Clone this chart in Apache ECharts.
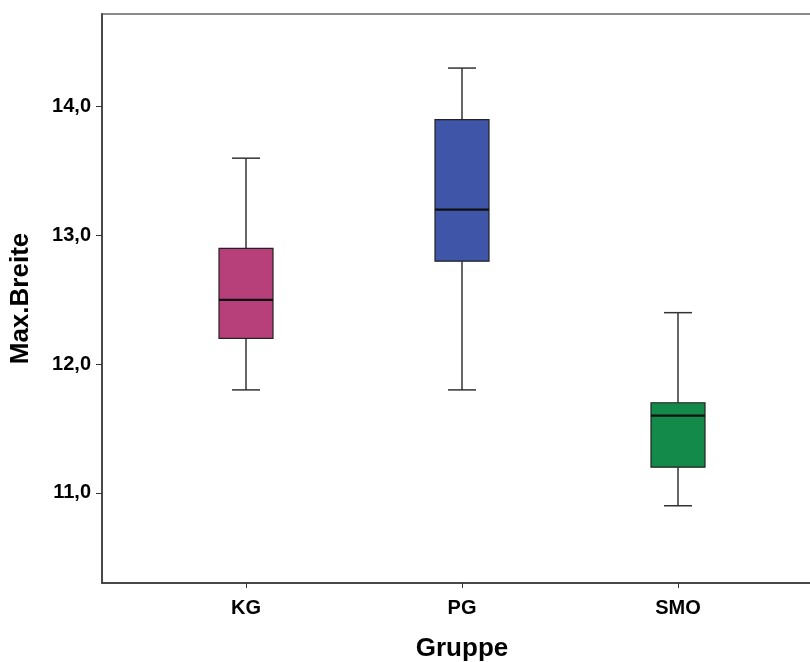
<!DOCTYPE html>
<html>
<head>
<meta charset="utf-8">
<script src="https://cdn.jsdelivr.net/npm/echarts@6/dist/echarts.min.js"></script>
<style>
  html, body { margin: 0; padding: 0; overflow: hidden; background: #fff; }
  #main { width: 840px; height: 662px; }
</style>
</head>
<body>
<div id="main"></div>
<script>
// Gruppe / Max.Breite
const groups = ['KG', 'PG', 'SMO']
const mins = [11.8, 11.8, 10.9]
const q1s = [12.2, 12.8, 11.2]
const medians = [12.5, 13.2, 11.6]
const q3s = [12.9, 13.9, 11.7]
const maxs = [13.6, 14.3, 12.4]
const colors = ['#b8407a', '#3e55a8', '#138a4a']
const yTicks = [11, 12, 13, 14]

const boxData = groups.map((g, i) => [i, mins[i], q1s[i], medians[i], q3s[i], maxs[i]])

const chart = echarts.init(document.getElementById('main'))

chart.setOption({
  animation: false,
  grid: {
    left: 102,
    top: 14,
    width: 720,
    bottom: 79,
    outerBoundsMode: 'none',
    show: true,
    borderColor: '#8a8a8a',
    borderWidth: 2
  },
  xAxis: {
    type: 'value',
    min: -2 / 3,
    max: 8 / 3,
    name: 'Gruppe',
    nameLocation: 'middle',
    nameGap: 53,
    nameTextStyle: { fontFamily: 'Liberation Sans', fontWeight: 'bold', fontSize: 26, color: '#000' },
    axisLine: { show: true, onZero: false, lineStyle: { color: '#333', width: 1.5 } },
    axisTick: { show: true, length: 5, customValues: [0, 1, 2], lineStyle: { color: '#333' } },
    axisLabel: {
      customValues: [0, 1, 2],
      formatter: v => groups[Math.round(v)],
      margin: 15,
      fontFamily: 'Liberation Sans', fontWeight: 'bold', fontSize: 20, color: '#000'
    },
    splitLine: { show: false }
  },
  yAxis: {
    type: 'value',
    min: 10.3,
    max: 14.72,
    name: 'Max.Breite',
    nameLocation: 'middle',
    nameGap: 68,
    nameRotate: 90,
    nameTextStyle: { fontFamily: 'Liberation Sans', fontWeight: 'bold', fontSize: 26, color: '#000' },
    axisLine: { show: true, onZero: false, lineStyle: { color: '#333', width: 1.5 } },
    axisTick: { show: true, length: 6, customValues: yTicks, lineStyle: { color: '#333' } },
    axisLabel: {
      customValues: yTicks,
      formatter: v => v.toFixed(1).replace('.', ','),
      margin: 11,
      fontFamily: 'Liberation Sans', fontWeight: 'bold', fontSize: 20, color: '#000'
    },
    splitLine: { show: false }
  },
  series: [{
    type: 'custom',
    data: boxData,
    encode: { x: 0, y: [1, 2, 3, 4, 5] },
    renderItem: (params, api) => {
      const x = api.value(0)
      const pMin = api.coord([x, api.value(1)])
      const pQ1 = api.coord([x, api.value(2)])
      const pMed = api.coord([x, api.value(3)])
      const pQ3 = api.coord([x, api.value(4)])
      const pMax = api.coord([x, api.value(5)])
      const cx = pMin[0]
      const bw = 27
      const cw = 14
      const line = { stroke: '#333', lineWidth: 1.5 }
      return {
        type: 'group',
        children: [
          { type: 'line', shape: { x1: cx, y1: pMin[1], x2: cx, y2: pQ1[1] }, style: line },
          { type: 'line', shape: { x1: cx, y1: pQ3[1], x2: cx, y2: pMax[1] }, style: line },
          { type: 'line', shape: { x1: cx - cw, y1: pMin[1], x2: cx + cw, y2: pMin[1] }, style: line },
          { type: 'line', shape: { x1: cx - cw, y1: pMax[1], x2: cx + cw, y2: pMax[1] }, style: line },
          {
            type: 'rect',
            shape: { x: cx - bw, y: pQ3[1], width: bw * 2, height: pQ1[1] - pQ3[1] },
            style: { fill: colors[params.dataIndex], stroke: '#222', lineWidth: 1.2 }
          },
          { type: 'line', shape: { x1: cx - bw, y1: pMed[1], x2: cx + bw, y2: pMed[1] }, style: { stroke: '#111', lineWidth: 2.2 } }
        ]
      }
    }
  }]
})
</script>
</body>
</html>
